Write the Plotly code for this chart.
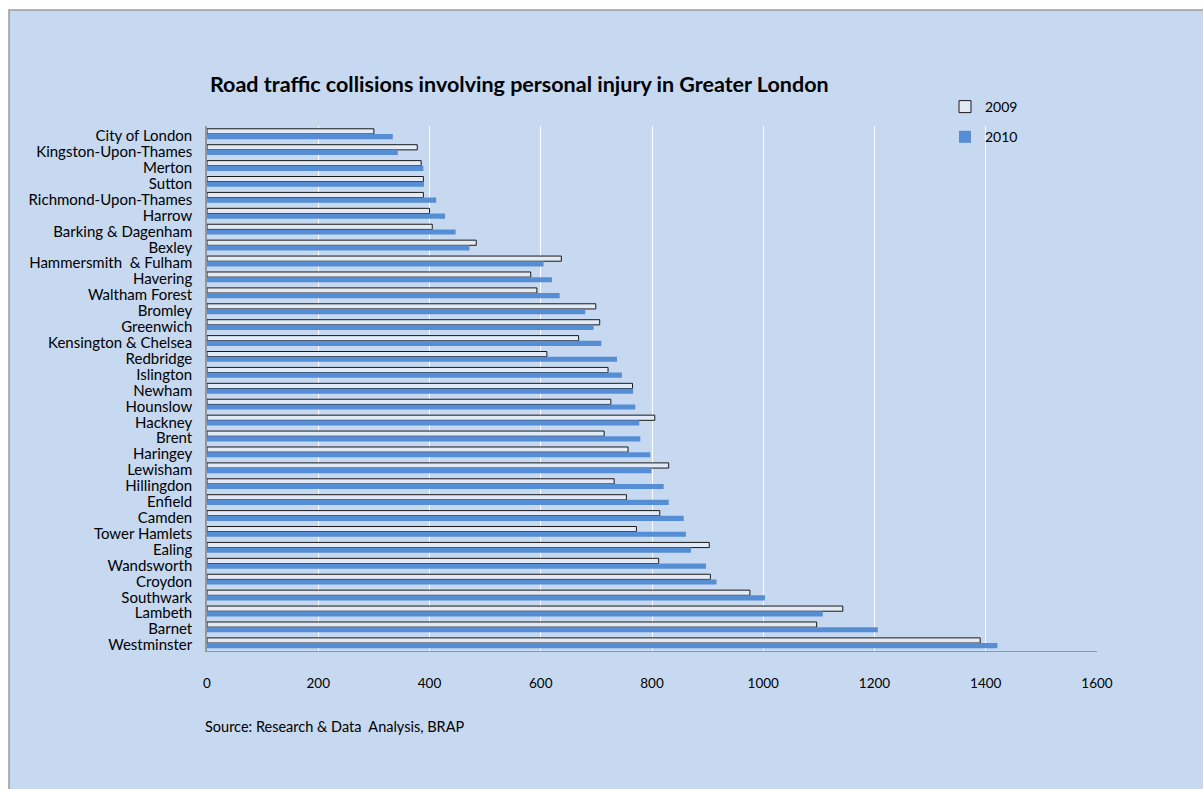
import plotly.graph_objects as go

boroughs = ["City of London", "Kingston-Upon-Thames", "Merton", "Sutton", "Richmond-Upon-Thames",
            "Harrow", "Barking & Dagenham", "Bexley", "Hammersmith  & Fulham", "Havering",
            "Waltham Forest", "Bromley", "Greenwich", "Kensington & Chelsea", "Redbridge",
            "Islington", "Newham", "Hounslow", "Hackney", "Brent", "Haringey", "Lewisham",
            "Hillingdon", "Enfield", "Camden", "Tower Hamlets", "Ealing", "Wandsworth",
            "Croydon", "Southwark", "Lambeth", "Barnet", "Westminster"]

y2009 = [300, 378, 385, 389, 389, 400, 405, 484, 637, 582, 593, 699, 706, 668, 611,
         721, 765, 726, 805, 714, 757, 830, 732, 754, 814, 772, 903, 812, 905, 976,
         1143, 1096, 1390]
y2010 = [334, 343, 389, 390, 412, 428, 447, 472, 605, 620, 634, 680, 695, 709, 737,
         746, 766, 770, 777, 779, 797, 799, 821, 830, 857, 861, 870, 897, 916, 1003,
         1107, 1206, 1421]

x_ticks = [0, 200, 400, 600, 800, 1000, 1200, 1400, 1600]

FONT = "Lato, 'Open Sans', sans-serif"
BG = "#C6D9F0"

fig = go.Figure()
fig.add_trace(go.Bar(
    y=boroughs, x=y2009, orientation="h", name="2009", legendgroup="a",
    marker=dict(color="#E2EAF5", line=dict(color="#1a1a1a", width=1)),
))
fig.add_trace(go.Bar(
    y=boroughs, x=y2010, orientation="h", name="2010", legendgroup="b",
    marker=dict(color="#558ED5", line=dict(width=0)),
))

W, H = 1203, 789
L, R, T, B = 207, 1097, 126, 651
pw, ph = R - L, B - T

def px(xp):
    return (xp - L) / pw

def py(yp):
    return (B - yp) / ph

fig.update_layout(
    width=W, height=H,
    margin=dict(l=L, r=W - R, t=T, b=H - B, pad=0),
    paper_bgcolor="white",
    plot_bgcolor="rgba(0,0,0,0)",
    barmode="group", bargap=0.35, bargroupgap=0,
    font=dict(family=FONT, size=14, color="#000000"),
    showlegend=True,
    legend=dict(x=px(945), y=py(91), xanchor="left", yanchor="top",
                bgcolor="rgba(0,0,0,0)", tracegroupgap=9,
                font=dict(family=FONT, size=14, color="#000")),
    xaxis=dict(range=[0, 1600], tickmode="array", tickvals=x_ticks,
               ticktext=[str(v) for v in x_ticks],
               showgrid=True, gridcolor="white", gridwidth=1,
               showline=True, linecolor="#969696", linewidth=1,
               zeroline=False, ticks="", ticklabelstandoff=20,
               tickfont=dict(family=FONT, size=13.5)),
    yaxis=dict(autorange="reversed", showgrid=False, tickmode="array",
               tickvals=boroughs, ticktext=boroughs,
               showline=True, linecolor="#969696", linewidth=1.5,
               ticks="", ticklabelstandoff=10, ticklabelshift=-2,
               tickfont=dict(family=FONT, size=15)),
    shapes=[dict(type="rect", xref="paper", yref="paper", layer="below",
                 x0=px(9), x1=px(1215), y0=py(800), y1=py(10),
                 fillcolor=BG, line=dict(color="#9a9a9a", width=1.5))],
    annotations=[
        dict(text="<b>Road traffic collisions involving personal injury in Greater London</b>",
             xref="paper", yref="paper", x=px(208), y=py(84), xanchor="left", yanchor="middle",
             showarrow=False, font=dict(family=FONT, size=21.5, color="#000")),
        dict(text="Source: Research & Data  Analysis, BRAP",
             xref="paper", yref="paper", x=px(203), y=py(726), xanchor="left", yanchor="middle",
             showarrow=False, font=dict(family=FONT, size=14.5, color="#000")),
    ],
)

fig.write_html("out.html")
